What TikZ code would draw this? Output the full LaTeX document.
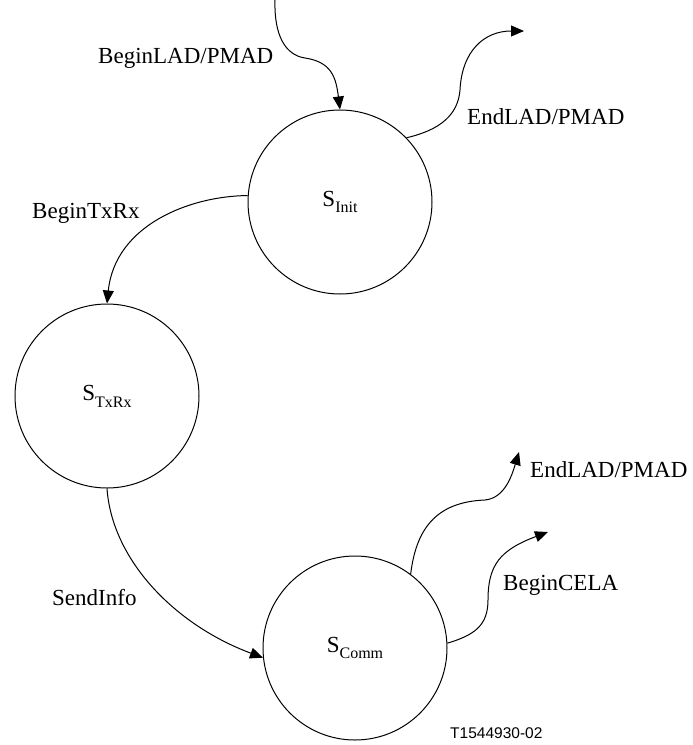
\documentclass[tikz,border=0pt]{standalone}
\usepackage{fontspec}
\setmainfont{Liberation Serif}
\newfontfamily\labelsans{Liberation Sans}
\usetikzlibrary{arrows.meta}
\tikzset{
  state/.style={circle,draw,line width=1pt,minimum size=184pt,inner sep=0pt,font=\fontsize{23}{26}\selectfont},
  lbl/.style={anchor=west,inner sep=0pt,font=\fontsize{23}{26}\selectfont},
  conn/.style={line width=1pt,-{Triangle[length=13pt,width=11pt]}},
  plain/.style={line width=1pt}
}
\newcommand{\stname}[1]{S\raisebox{-0.3em}{\fontsize{16}{18}\selectfont #1}}
\begin{document}
\begin{tikzpicture}[x=1pt,y=-1pt]
\useasboundingbox (0,0) rectangle (693,745);
\node[state] (init) at (340,202) {\stname{Init}};
\node[state] (txrx) at (107,396) {\stname{TxRx}};
\node[state] (comm) at (355,648) {\stname{Comm}};
\coordinate (in1) at (275,0);
\coordinate (out1) at (524,31);
\coordinate (out2) at (519,452);
\coordinate (out3) at (548,532);
\node[lbl] (l1) at (98,58) {BeginLAD/PMAD};
\node[lbl] (l2) at (467,117) {EndLAD/PMAD};
\node[lbl] (l3) at (32,213) {BeginTxRx};
\node[lbl] (l4) at (52,598) {SendInfo};
\node[lbl] (l5) at (530,470) {EndLAD/PMAD};
\node[lbl] (l6) at (503,585) {BeginCELA};
\node[anchor=west,inner sep=0pt,font=\labelsans\fontsize{15.5}{17}\selectfont] (code) at (450,733) {T1544930-02};
\draw[conn] (in1) .. controls (274,35) and (285,55) .. (305,58) .. controls (332,62) and (336,78) .. (init.north);
\draw[conn] (init.44) .. controls (440,130) and (458,115) .. (460,90) .. controls (462,50) and (485,31) .. (out1);
\draw[conn] (init.176) .. controls (190,196) and (115,225) .. (txrx.north);
\draw[conn] (txrx.south) .. controls (112,560) and (175,625) .. (comm.186);
\draw[conn] (comm.53) .. controls (416,530) and (435,502) .. (485,500) .. controls (505,498) and (512,475) .. (out2);
\draw[conn] (comm.3) .. controls (475,635) and (488,625) .. (488,600) .. controls (488,565) and (500,550) .. (out3);
\end{tikzpicture}
\end{document}
